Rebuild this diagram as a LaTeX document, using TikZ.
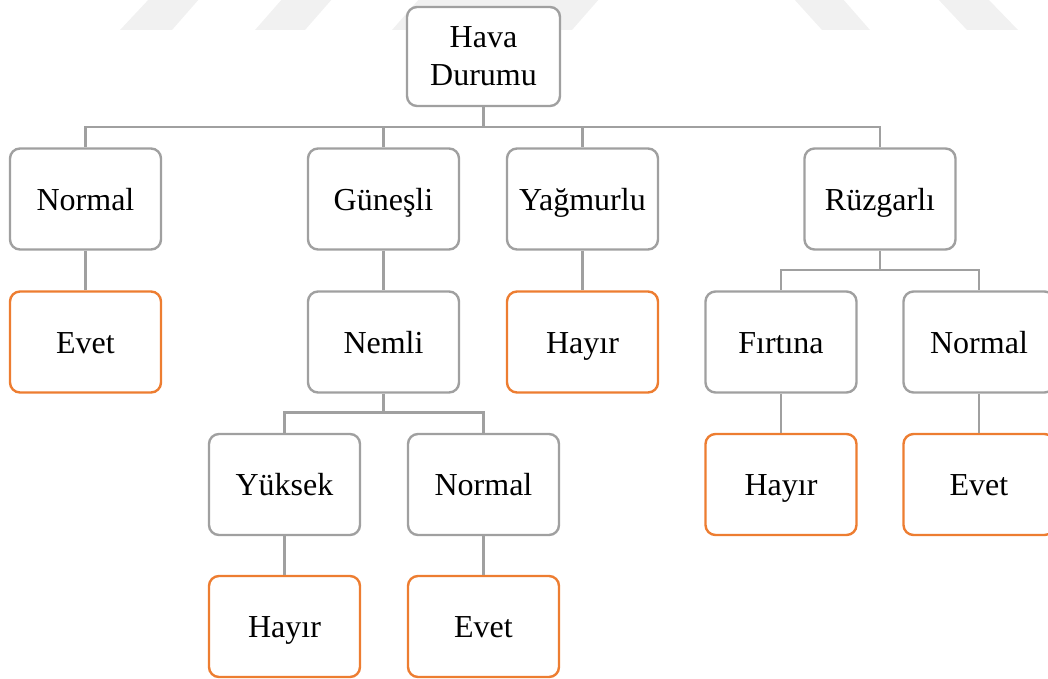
\documentclass[tikz,border=0pt]{standalone}
\usepackage{fontspec}
\setmainfont{Liberation Serif}
\definecolor{boxgray}{HTML}{A0A0A0}
\definecolor{leaforange}{HTML}{ED7D31}
\definecolor{wmgray}{HTML}{F1F1F1}
\tikzset{
  base/.style={draw, line width=2.4pt, rounded corners=10pt, fill=white,
    minimum width=151pt, minimum height=101pt, inner sep=0pt,
    font=\fontsize{32}{38}\selectfont, align=center},
  oneline/.style={text height=30pt, text depth=8pt},
  inner/.style={base, oneline, draw=boxgray},
  leaf/.style={base, oneline, draw=leaforange},
  rootbox/.style={base, draw=boxgray},
  conn/.style={draw=boxgray, line width=2.4pt},
  wm/.style={fill=wmgray, draw=none}
}
\begin{document}
\begin{tikzpicture}[x=1pt,y=-1pt]
\useasboundingbox (0,0) rectangle (1048,679);
% faint watermark
\fill[wm] (120,30) -- (172,30) -- (200,-2) -- (150,-2) -- cycle;
\fill[wm] (255,30) -- (305,30) -- (333,-2) -- (283,-2) -- cycle;
\fill[wm] (392,30) -- (572,30) -- (600,-2) -- (420,-2) -- cycle;
\fill[wm] (793,-2) -- (842,-2) -- (870,30) -- (822,30) -- cycle;
\fill[wm] (937,-2) -- (987,-2) -- (1018,30) -- (967,30) -- cycle;
% nodes
\node[rootbox, minimum width=153pt, minimum height=99pt] (root) at (483.5,56.5) {Hava\\Durumu};
\node[inner] (normal1) at (85.5,199) {Normal};
\node[inner] (gunesli) at (383.5,199) {Güneşli};
\node[inner] (yagmurlu) at (582.5,199) {Yağmurlu};
\node[inner] (ruzgarli) at (880,199) {Rüzgarlı};
\node[leaf] (evet1) at (85.5,342) {Evet};
\node[inner] (nemli) at (383.5,342) {Nemli};
\node[leaf] (hayir1) at (582.5,342) {Hayır};
\node[inner] (firtina) at (781,342) {Fırtına};
\node[inner] (normal2) at (979,342) {Normal};
\node[inner] (yuksek) at (284.5,484.5) {Yüksek};
\node[inner] (normal3) at (483.5,484.5) {Normal};
\node[leaf] (hayir2) at (781,484.5) {Hayır};
\node[leaf] (evet2) at (979,484.5) {Evet};
\node[leaf] (hayir3) at (284.5,626.5) {Hayır};
\node[leaf] (evet3) at (483.5,626.5) {Evet};
% connectors
\coordinate (bar0) at (483.5,127);
\coordinate (bar1) at (880,270);
\coordinate (bar2) at (383.5,412.5);
\draw[conn] (root.south) -- (bar0);
\draw[conn] (normal1.north) |- (bar0);
\draw[conn] (gunesli.north) |- (bar0);
\draw[conn] (yagmurlu.north) |- (bar0);
\draw[conn] (ruzgarli.north) |- (bar0);
\draw[conn] (normal1.south) -- (evet1.north);
\draw[conn] (gunesli.south) -- (nemli.north);
\draw[conn] (yagmurlu.south) -- (hayir1.north);
\draw[conn] (ruzgarli.south) -- (bar1);
\draw[conn] (firtina.north) |- (bar1);
\draw[conn] (normal2.north) |- (bar1);
\draw[conn] (nemli.south) -- (bar2);
\draw[conn] (yuksek.north) |- (bar2);
\draw[conn] (normal3.north) |- (bar2);
\draw[conn] (firtina.south) -- (hayir2.north);
\draw[conn] (normal2.south) -- (evet2.north);
\draw[conn] (yuksek.south) -- (hayir3.north);
\draw[conn] (normal3.south) -- (evet3.north);
\end{tikzpicture}
\end{document}
